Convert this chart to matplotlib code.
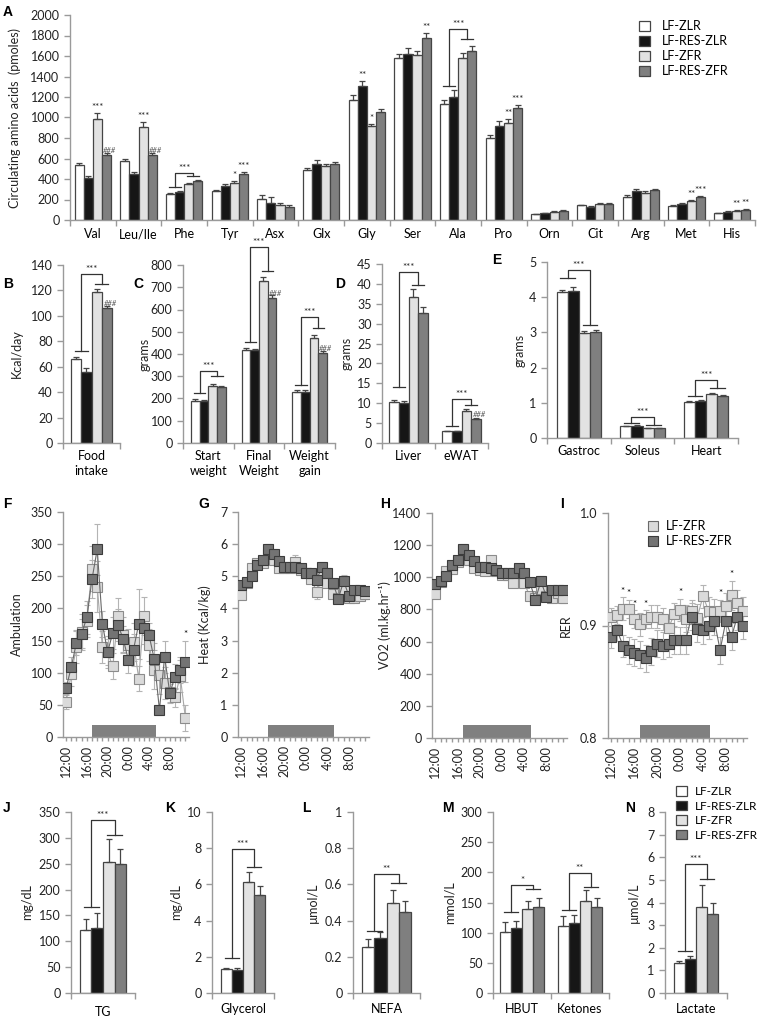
import matplotlib.pyplot as plt
from matplotlib.patches import Patch, Rectangle
from matplotlib.lines import Line2D
from matplotlib.ticker import FuncFormatter
import numpy as np

plt.rcParams['font.family'] = ['Lato', 'DejaVu Sans']
plt.rcParams['font.size'] = 9

W, H = 761, 1025
fig = plt.figure(figsize=(W / 100, H / 100), dpi=100)

groups = ['LF-ZLR', 'LF-RES-ZLR', 'LF-ZFR', 'LF-RES-ZFR']
bar_colors = ['#ffffff', '#161616', '#e2e2e2', '#7f7f7f']
edge = '#454545'
axis_col = '#9a9a9a'

# ---- A: circulating amino acids (pmoles), columns = groups
aa_names = ['Val', 'Leu/Ile', 'Phe', 'Tyr', 'Asx', 'Glx', 'Gly', 'Ser', 'Ala',
            'Pro', 'Orn', 'Cit', 'Arg', 'Met', 'His']
aa_mean = [[535, 410, 985, 630], [575, 450, 910, 635], [258, 275, 355, 385],
           [285, 330, 365, 445], [205, 170, 150, 130], [488, 545, 525, 545],
           [1175, 1305, 915, 1050], [1580, 1620, 1610, 1775], [1130, 1200, 1580, 1650],
           [800, 915, 945, 1090], [55, 65, 80, 88], [145, 130, 160, 160],
           [225, 280, 265, 290], [140, 160, 185, 225], [65, 80, 85, 95]]
aa_err = [[20, 15, 55, 25], [20, 20, 45, 20], [8, 8, 10, 8], [12, 20, 20, 20],
          [35, 55, 15, 15], [20, 40, 20, 20], [40, 55, 25, 30], [35, 55, 35, 50],
          [40, 65, 50, 50], [30, 50, 40, 35], [5, 5, 5, 5], [5, 5, 5, 5],
          [15, 20, 15, 15], [8, 8, 10, 10], [5, 5, 8, 8]]
# (category, group, text)
aa_marks = [(0, 2, '***'), (0, 3, '###'), (1, 2, '***'), (1, 3, '###'), (3, 2, '*'),
            (3, 3, '***'), (6, 1, '**'), (6, 2, '*'), (7, 3, '**'), (9, 2, '**'),
            (9, 3, '***'), (13, 2, '**'), (13, 3, '***'), (14, 2, '**'), (14, 3, '**')]
# (category, left cap, right cap, top, text)
aa_brackets = [(2, 320, 425, 455, '***'), (8, 1310, 1765, 1865, '***')]

# ---- B-E: food intake and tissue weights
food_names = ['Food\nintake']
food_mean = [[66, 56, 119, 106]]
food_err = [[2, 3, 2, 2]]

bw_names = ['Start\nweight', 'Final\nWeight', 'Weight\ngain']
bw_mean = [[191, 188, 257, 253], [420, 416, 730, 652], [230, 230, 473, 403]]
bw_err = [[5, 4, 7, 4], [8, 8, 15, 14], [8, 7, 13, 10]]

fat_names = ['Liver', 'eWAT']
fat_mean = [[10.3, 10.0, 36.8, 32.6], [2.9, 2.9, 8.1, 6.1]]
fat_err = [[0.6, 0.6, 2.0, 1.7], [0.2, 0.2, 0.5, 0.3]]

musc_names = ['Gastroc', 'Soleus', 'Heart']
musc_mean = [[4.15, 4.18, 2.98, 3.01], [0.33, 0.35, 0.27, 0.27], [1.03, 1.05, 1.25, 1.20]]
musc_err = [[0.06, 0.1, 0.06, 0.06], [0.02, 0.02, 0.02, 0.02], [0.03, 0.03, 0.02, 0.02]]

# ---- F-I: indirect calorimetry, hourly from 12:00
hours = np.arange(24)
time_labels = ['12:00', '16:00', '20:00', '0:00', '4:00', '8:00']

amb_light = [55, 98, 140, 163, 181, 262, 234, 140, 132, 110, 188, 158,
             143, 148, 91, 188, 143, 105, 97, 84, 70, 62, 95, 30]
amb_light_err = [12, 18, 25, 28, 25, 35, 40, 25, 25, 20, 28, 28,
                 25, 30, 20, 30, 25, 30, 30, 25, 15, 15, 25, 20]
amb_dark = [76, 109, 147, 161, 186, 246, 292, 176, 132, 162, 174, 153,
            120, 136, 176, 170, 158, 121, 42, 125, 68, 94, 104, 117]
amb_dark_err = [10, 15, 20, 22, 25, 30, 40, 20, 20, 25, 25, 20,
                20, 25, 55, 25, 20, 25, 8, 25, 15, 20, 20, 32]

heat_light = [4.43, 4.8, 5.25, 5.4, 5.4, 5.7, 5.5, 5.27, 5.25, 5.25, 5.45, 5.2,
              5.1, 4.93, 4.5, 4.97, 4.8, 4.45, 4.33, 4.57, 4.33, 4.33, 4.4, 4.45]
heat_light_err = [0.1, 0.1, 0.12, 0.12, 0.12, 0.12, 0.1, 0.1, 0.1, 0.1, 0.2, 0.1,
                  0.1, 0.1, 0.22, 0.1, 0.12, 0.12, 0.1, 0.15, 0.1, 0.1, 0.15, 0.15]
heat_dark = [4.72, 4.82, 5.0, 5.35, 5.5, 5.85, 5.7, 5.47, 5.3, 5.3, 5.3, 5.25,
             5.1, 5.1, 4.9, 5.3, 5.1, 4.8, 4.3, 4.85, 4.38, 4.56, 4.58, 4.53]
heat_dark_err = [0.1, 0.1, 0.1, 0.1, 0.12, 0.15, 0.15, 0.12, 0.1, 0.1, 0.1, 0.1,
                 0.1, 0.1, 0.12, 0.15, 0.15, 0.12, 0.08, 0.2, 0.1, 0.1, 0.12, 0.12]

vo2_light = [897, 970, 1040, 1050, 1098, 1170, 1105, 1058, 1045, 1037, 1105, 1037,
             1016, 1016, 962, 1045, 962, 885, 872, 928, 885, 872, 900, 872]
vo2_light_err = [20, 20, 25, 25, 25, 25, 25, 20, 20, 20, 30, 20,
                 20, 20, 25, 25, 25, 25, 20, 30, 20, 20, 25, 30]
vo2_dark = [960, 980, 1007, 1075, 1105, 1175, 1140, 1100, 1065, 1065, 1060, 1045,
            1025, 1025, 1025, 1060, 1025, 970, 860, 975, 880, 922, 922, 918]
vo2_dark_err = [20, 20, 20, 25, 25, 30, 25, 20, 20, 20, 20, 20,
                20, 20, 20, 25, 25, 25, 15, 35, 20, 25, 25, 25]

rer_light = [0.908, 0.909, 0.915, 0.915, 0.906, 0.901, 0.906, 0.908, 0.908, 0.906, 0.898, 0.910,
             0.914, 0.906, 0.913, 0.907, 0.926, 0.913, 0.912, 0.913, 0.917, 0.927, 0.920, 0.913]
rer_light_err = [0.008, 0.008, 0.01, 0.008, 0.008, 0.01, 0.008, 0.01, 0.01, 0.01, 0.01, 0.01,
                 0.01, 0.012, 0.01, 0.012, 0.01, 0.012, 0.012, 0.01, 0.012, 0.013, 0.012, 0.012]
rer_dark = [0.890, 0.896, 0.882, 0.878, 0.876, 0.874, 0.871, 0.877, 0.884, 0.882, 0.884, 0.887,
            0.887, 0.887, 0.908, 0.897, 0.896, 0.900, 0.904, 0.878, 0.904, 0.890, 0.908, 0.900]
rer_dark_err = [0.01, 0.01, 0.01, 0.012, 0.012, 0.012, 0.012, 0.012, 0.012, 0.012, 0.012, 0.012,
                0.012, 0.012, 0.012, 0.012, 0.012, 0.012, 0.012, 0.012, 0.012, 0.012, 0.012, 0.012]
rer_stars = [2, 3, 4, 6, 12, 19, 21]
night = (5.0, 17.3)

# ---- J-N: plasma metabolites
tg_mean = [[122, 125, 253, 249]]
tg_err = [[22, 30, 45, 30]]
gly_mean = [[1.33, 1.29, 6.13, 5.44]]
gly_err = [[0.07, 0.07, 0.55, 0.45]]
nefa_mean = [[0.255, 0.305, 0.50, 0.45]]
nefa_err = [[0.045, 0.03, 0.07, 0.06]]
ket_names = ['HBUT', 'Ketones']
ket_mean = [[101, 107, 139, 142], [111, 116, 153, 143]]
ket_err = [[17, 13, 13, 16], [17, 13, 17, 15]]
lac_mean = [[1.33, 1.52, 3.78, 3.48]]
lac_err = [[0.07, 0.1, 0.98, 0.5]]


def make_ax(l, t, r, b):
    ax = fig.add_axes([l / W, 1 - b / H, (r - l) / W, (b - t) / H])
    for s in ('top', 'right'):
        ax.spines[s].set_visible(False)
    for s in ('left', 'bottom'):
        ax.spines[s].set_color(axis_col)
        ax.spines[s].set_linewidth(1)
    ax.tick_params(colors=axis_col, labelcolor='#222222', width=1, length=4,
                   direction='out', labelsize=9)
    ax.patch.set_alpha(0)
    return ax


def ylab(ax, text, x):
    bb = ax.get_position()
    fig.text(x / W, bb.y0 + bb.height / 2, text, rotation=90, ha='center',
             va='center', fontsize=9, color='#222222')


def letter(text, x, y):
    fig.text(x / W, 1 - y / H, text, fontsize=10, fontweight='bold',
             family='Liberation Sans', va='top', ha='left')


def bar_panel(box, cats, means, errs, top, step, bw=0.18, pad=5):
    ax = make_ax(*box)
    means = np.asarray(means, float)
    errs = np.asarray(errs, float)
    n = len(cats)
    x = np.arange(n)
    for i in range(4):
        xi = x + (i - 1.5) * bw
        ax.bar(xi, means[:, i], bw, color=bar_colors[i], edgecolor=edge,
               linewidth=0.9, zorder=2)
        ax.errorbar(xi, means[:, i], yerr=[np.zeros(n), errs[:, i]], fmt='none',
                    ecolor=edge, elinewidth=0.9, capsize=2.2, capthick=0.9, zorder=3)
    ax.set_xlim(-0.5, n - 0.5)
    ax.set_ylim(0, top)
    ax.set_yticks(np.arange(0, top + step / 2, step))
    ax.yaxis.set_major_formatter(FuncFormatter(lambda v, p: f'{v:g}'))
    ax.set_xticks(np.arange(n + 1) - 0.5)
    ax.set_xticklabels([])
    ax.set_xticks(x, minor=True)
    ax.set_xticklabels(cats, minor=True, linespacing=1.3)
    ax.tick_params(axis='x', which='minor', length=0, pad=pad)
    ax.bw = bw
    ax.means = means
    ax.errs = errs
    return ax


def mark(ax, cat, i, text):
    top = ax.means[cat, i] + ax.errs[cat, i]
    off = (ax.get_ylim()[1] - ax.get_ylim()[0]) * 0.005
    if text.startswith('#'):
        ax.text(cat + (i - 1.5) * ax.bw + ax.bw * 0.35, ax.means[cat, i] + off, text,
                ha='center', va='bottom', fontsize=5.5, color='#555555', style='italic')
    else:
        ax.text(cat + (i - 1.5) * ax.bw, top + off, text, ha='center', va='bottom',
                fontsize=7, color='#222222')


def bracket(ax, cat, y1, y2, ytop, text):
    bw = ax.bw
    xl, xr = cat - bw, cat + bw
    kw = dict(color='#333333', lw=0.9, clip_on=False, zorder=4)
    ax.plot([xl - bw * 0.65, xl + bw * 0.65], [y1, y1], **kw)
    ax.plot([xl, xl, xr, xr], [y1, ytop, ytop, y2], **kw)
    ax.plot([xr - bw * 0.65, xr + bw * 0.65], [y2, y2], **kw)
    ax.text(cat, ytop, text, ha='center', va='bottom', fontsize=7, color='#222222')


def time_panel(box, light, light_e, dark, dark_e, ylim, step, bar_h, fmt='%g'):
    ax = make_ax(*box)
    for y, e, fc, ec, lc in ((light, light_e, '#dadada', '#8c8c8c', '#a8a8a8'),
                             (dark, dark_e, '#737373', '#3c3c3c', '#6a6a6a')):
        ax.errorbar(hours, y, yerr=e, fmt='s-', color=lc, lw=0.8, ecolor='#b4b4b4',
                    elinewidth=0.8, capsize=2.5, capthick=0.8, ms=6.5, mfc=fc,
                    mec=ec, mew=0.8, zorder=3)
    ax.add_patch(Rectangle((night[0], ylim[0]), night[1] - night[0], bar_h,
                           color='#808080', lw=0, zorder=2))
    ax.set_xlim(-0.6, 23.7)
    ax.set_ylim(*ylim)
    ax.set_yticks(np.arange(ylim[0], ylim[1] + step / 2, step))
    ax.yaxis.set_major_formatter(FuncFormatter(lambda v, p: fmt % v))
    ax.set_xticks(hours)
    ax.set_xticklabels([time_labels[h // 4] if h % 4 == 0 else '' for h in hours],
                       rotation=90)
    ax.tick_params(axis='x', length=3, pad=3)
    return ax


# ---------------- A
axA = bar_panel((70, 15, 755, 220), aa_names, aa_mean, aa_err, 2000, 200, bw=0.2, pad=6)
for c, i, t in aa_marks:
    mark(axA, c, i, t)
for c, y1, y2, yt, t in aa_brackets:
    bracket(axA, c, y1, y2, yt, t)
ylab(axA, 'Circulating amino acids  (pmoles)', 15)
axA.legend(handles=[Patch(facecolor=bar_colors[i], edgecolor=edge, lw=0.9, label=g)
                    for i, g in enumerate(groups)],
           loc='upper left', bbox_to_anchor=(639 / W, 1 - 20 / H),
           bbox_transform=fig.transFigure, frameon=False, fontsize=9,
           handlelength=0.9, handleheight=0.9, handletextpad=0.9, labelspacing=0.25,
           borderpad=0, borderaxespad=0)

# ---------------- B
axB = bar_panel((63, 265, 120, 443), food_names, food_mean, food_err, 140, 20)
mark(axB, 0, 3, '###')
bracket(axB, 0, 72, 125, 133, '***')
ylab(axB, 'Kcal/day', 17)

# ---------------- C
axC = bar_panel((183, 265, 335, 443), bw_names, bw_mean, bw_err, 800, 100, bw=0.17)
mark(axC, 1, 3, '###')
mark(axC, 2, 3, '###')
bracket(axC, 0, 224, 301, 322, '***')
bracket(axC, 1, 456, 773, 880, '***')
bracket(axC, 2, 260, 515, 566, '***')
ylab(axC, 'grams', 145)

# ---------------- D
axD = bar_panel((382, 264, 488, 443), fat_names, fat_mean, fat_err, 45, 5)
mark(axD, 1, 3, '###')
bracket(axD, 0, 14, 39.6, 43, '***')
bracket(axD, 1, 4.2, 9.6, 11, '***')
ylab(axD, 'grams', 347)

# ---------------- E
axE = bar_panel((547, 262, 738, 438), musc_names, musc_mean, musc_err, 5, 1, bw=0.175)
bracket(axE, 0, 4.55, 3.2, 4.78, '***')
bracket(axE, 1, 0.44, 0.38, 0.6, '***')
bracket(axE, 2, 1.18, 1.43, 1.65, '***')
ylab(axE, 'grams', 520)

# ---------------- F-I
axF = time_panel((63, 512, 189, 737), amb_light, amb_light_err, amb_dark, amb_dark_err,
                 (0, 350), 50, 18)
axF.text(23, amb_dark[23] + amb_dark_err[23] + 3, '*', ha='center', va='bottom', fontsize=7)
ylab(axF, 'Ambulation', 17)

axG = time_panel((238, 512, 369, 737), heat_light, heat_light_err, heat_dark, heat_dark_err,
                 (0, 7), 1, 0.36)
ylab(axG, 'Heat (Kcal/kg)', 205)

axH = time_panel((432, 513, 567, 738), vo2_light, vo2_light_err, vo2_dark, vo2_dark_err,
                 (0, 1400), 200, 80)
ylab(axH, 'VO2 (ml.kg.hr\u207b\u00b9)', 385)

axI = time_panel((608, 513, 747, 738), rer_light, rer_light_err, rer_dark, rer_dark_err,
                 (0.8, 1.0), 0.1, 0.0115, fmt='%.1f')
for h in rer_stars:
    axI.text(h, rer_light[h] + rer_light_err[h] + 0.001, '*', ha='center', va='bottom',
             fontsize=7)
ylab(axI, 'RER', 566)
axI.legend(handles=[Line2D([], [], ls='none', marker='s', ms=7.5, mfc='#dadada', mec='#6a6a6a',
                           mew=0.8, label='LF-ZFR'),
                    Line2D([], [], ls='none', marker='s', ms=7.5, mfc='#737373', mec='#3c3c3c',
                           mew=0.8, label='LF-RES-ZFR')],
           loc='upper left', bbox_to_anchor=(647 / W, 1 - 520 / H),
           bbox_transform=fig.transFigure, frameon=False, fontsize=9,
           handlelength=0.9, handletextpad=0.6, labelspacing=0.25,
           borderpad=0, borderaxespad=0)

# ---------------- J-N
axJ = bar_panel((71, 812, 135, 993), ['TG'], tg_mean, tg_err, 350, 50, pad=9)
bracket(axJ, 0, 167, 306, 334, '***')
ylab(axJ, 'mg/dL', 27)

axK = bar_panel((212, 812, 274, 993), ['Glycerol'], gly_mean, gly_err, 10, 2, pad=7)
bracket(axK, 0, 1.94, 6.97, 7.97, '***')
ylab(axK, 'mg/dL', 176)

axL = bar_panel((353, 812, 420, 993), ['NEFA'], nefa_mean, nefa_err, 1, 0.2, pad=7)
bracket(axL, 0, 0.344, 0.605, 0.66, '**')
ylab(axL, '\u00b5mol/L', 313)

axM = bar_panel((493, 812, 609, 993), ket_names, ket_mean, ket_err, 300, 50, bw=0.19, pad=7)
bracket(axM, 0, 134, 172, 179, '*')
bracket(axM, 1, 137, 176, 199, '**')
ylab(axM, 'mmol/L', 450)

axN = bar_panel((665, 812, 727, 993), ['Lactate'], lac_mean, lac_err, 8, 1, pad=7)
bracket(axN, 0, 1.85, 5.06, 5.7, '***')
ylab(axN, '\u00b5mol/L', 634)
axN.legend(handles=[Patch(facecolor=bar_colors[i], edgecolor=edge, lw=0.9, label=g)
                    for i, g in enumerate(groups)],
           loc='upper left', bbox_to_anchor=(676 / W, 1 - 786 / H),
           bbox_transform=fig.transFigure, frameon=False, fontsize=8.5,
           handlelength=0.9, handleheight=0.9, handletextpad=0.7, labelspacing=0.3,
           borderpad=0, borderaxespad=0)

# panel letters
for t, x, y in [('A', 3, 5), ('B', 3, 277), ('C', 133, 277), ('D', 335, 277),
                ('E', 492, 253), ('F', 3, 497), ('G', 198, 497), ('H', 380, 497),
                ('I', 560, 497), ('J', 3, 801), ('K', 165, 801), ('L', 302, 801),
                ('M', 442, 801), ('N', 625, 801)]:
    letter(t, x, y)

fig.savefig('out.png', dpi=100)
